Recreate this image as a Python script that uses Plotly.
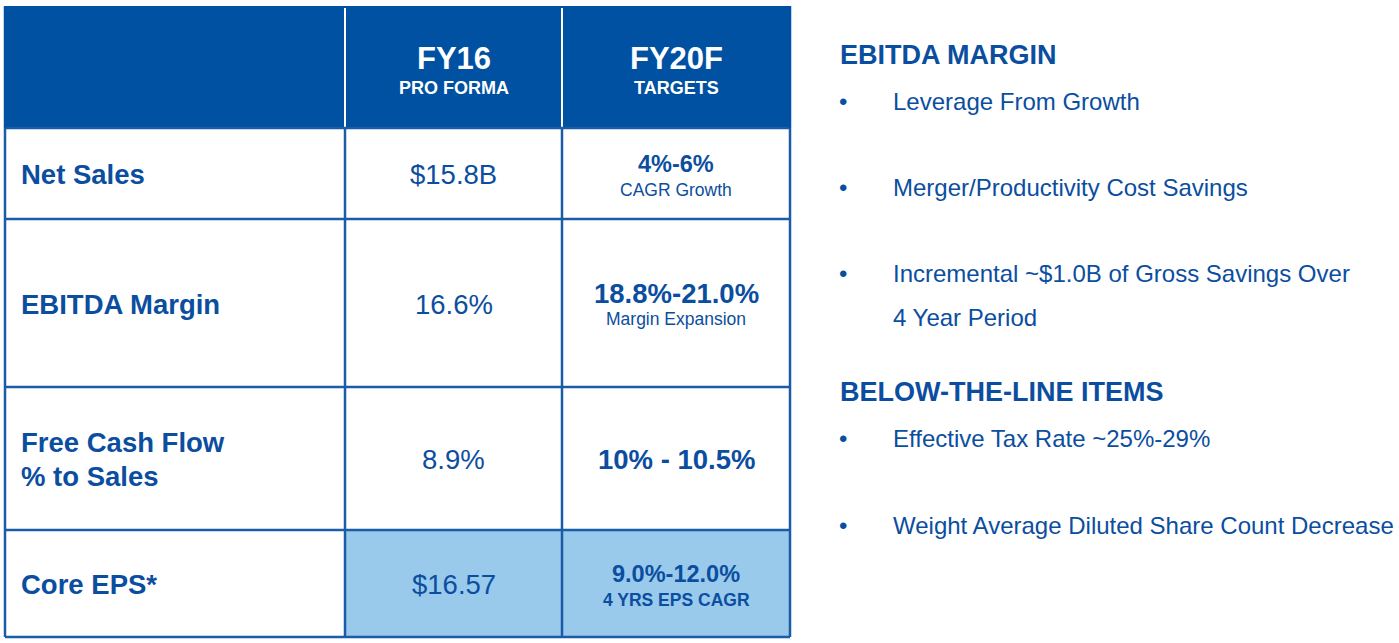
import plotly.graph_objects as go

# table content
col_heads = ["FY16", "FY20F"]
col_subs = ["PRO FORMA", "TARGETS"]
row_labels = ["Net Sales", "EBITDA Margin", "Free Cash Flow<br>% to Sales", "Core EPS*"]
fy16_values = ["$15.8B", "16.6%", "8.9%", "$16.57"]
fy20_values = ["4%-6%", "18.8%-21.0%", "10% - 10.5%", "9.0%-12.0%"]
fy20_notes = ["CAGR Growth", "Margin Expansion", "", "4 YRS EPS CAGR"]

# right-hand notes
section_titles = ["EBITDA MARGIN", "BELOW-THE-LINE ITEMS"]
ebitda_bullets = ["Leverage From Growth", "Merger/Productivity Cost Savings",
                  "Incremental ~$1.0B of Gross Savings Over<br>4 Year Period"]
btl_bullets = ["Effective Tax Rate ~25%-29%", "Weight Average Diluted Share Count Decrease"]

DARK = "#0051A1"
TEXT = "#0B4EA0"
LIGHT = "#99C9EB"
LINE = "#1A5CA8"
FONT = "Liberation Sans"

# geometry in pixels
col_x = [5, 345, 562, 790]
row_y = [6, 128, 219, 387, 530, 637]

fig = go.Figure()
shapes = []
ann = []

# header band
shapes.append(dict(type="rect", x0=col_x[0], x1=col_x[3], y0=row_y[0], y1=row_y[1],
                   fillcolor=DARK, line=dict(width=0), layer="below"))
for x in col_x[1:3]:
    shapes.append(dict(type="line", x0=x, x1=x, y0=row_y[0] + 2, y1=row_y[1],
                       line=dict(color="white", width=2)))

# highlighted EPS cells
shapes.append(dict(type="rect", x0=col_x[1], x1=col_x[3], y0=row_y[4], y1=row_y[5],
                   fillcolor=LIGHT, line=dict(width=0), layer="below"))

# grid lines for the body
for y in row_y[1:]:
    shapes.append(dict(type="line", x0=col_x[0], x1=col_x[3], y0=y, y1=y,
                       line=dict(color=LINE, width=2.5)))
for x in col_x:
    shapes.append(dict(type="line", x0=x, x1=x, y0=row_y[1], y1=row_y[5],
                       line=dict(color=LINE, width=2.5)))
for x in (col_x[0], col_x[3]):
    shapes.append(dict(type="line", x0=x, x1=x, y0=row_y[0], y1=row_y[1],
                       line=dict(color=DARK, width=2.5)))

mid1 = (col_x[1] + col_x[2]) / 2
mid2 = (col_x[2] + col_x[3]) / 2

for i, (h, s) in enumerate(zip(col_heads, col_subs)):
    cx = [mid1, mid2][i]
    ann.append(dict(x=cx, y=58, text=h, font=dict(size=31, color="white", weight="bold")))
    ann.append(dict(x=cx, y=88, text=s, font=dict(size=18, color="white", weight="bold")))

for i in range(len(row_labels)):
    cy = (row_y[i + 1] + row_y[i + 2]) / 2 + 1
    lines = row_labels[i].split("<br>")
    for k, line in enumerate(lines):
        ly = cy + (k - (len(lines) - 1) / 2) * 34
        ann.append(dict(x=19, y=ly, text=line, xanchor="left",
                        font=dict(size=27.5, color=TEXT, weight="bold")))
    ann.append(dict(x=mid1, y=cy, text=fy16_values[i], font=dict(size=27.5, color=TEXT)))
    big = 27.5 if i in (1, 2) else 23.5
    if fy20_notes[i]:
        ann.append(dict(x=mid2, y=cy - 11, text=fy20_values[i],
                        font=dict(size=big, color=TEXT, weight="bold")))
        note_w = "bold" if i == 3 else "normal"
        ann.append(dict(x=mid2, y=cy + 15, text=fy20_notes[i],
                        font=dict(size=17.5, color=TEXT, weight=note_w)))
    else:
        ann.append(dict(x=mid2, y=cy, text=fy20_values[i],
                        font=dict(size=big, color=TEXT, weight="bold")))

# right-hand notes
ann.append(dict(x=838, y=55, text=section_titles[0], xanchor="left",
                font=dict(size=27, color=TEXT, weight="bold")))
ann.append(dict(x=838, y=392, text=section_titles[1], xanchor="left",
                font=dict(size=27, color=TEXT, weight="bold")))

bullet_y = [101, 187, 273, 438, 525]
for text, y in zip(ebitda_bullets + btl_bullets, bullet_y):
    ann.append(dict(x=843, y=y, text="•", xanchor="center",
                    font=dict(size=24, color=TEXT)))
    for k, line in enumerate(text.split("<br>")):
        ann.append(dict(x=891, y=y + 44 * k, text=line, xanchor="left",
                        font=dict(size=24, color=TEXT)))

for a in ann:
    a.update(xref="x", yref="y", showarrow=False)
    a.setdefault("xanchor", "center")
    a["yanchor"] = "middle"
    a["font"]["family"] = FONT

fig.update_layout(
    width=1399, height=643,
    margin=dict(l=0, r=0, t=0, b=0),
    paper_bgcolor="white", plot_bgcolor="white",
    shapes=shapes, annotations=ann,
    xaxis=dict(range=[0, 1399], visible=False, fixedrange=True),
    yaxis=dict(range=[643, 0], visible=False, fixedrange=True),
    showlegend=False,
)

fig.write_html("out.html", config={"displayModeBar": False},
               post_script="document.body.style.margin='0';")
